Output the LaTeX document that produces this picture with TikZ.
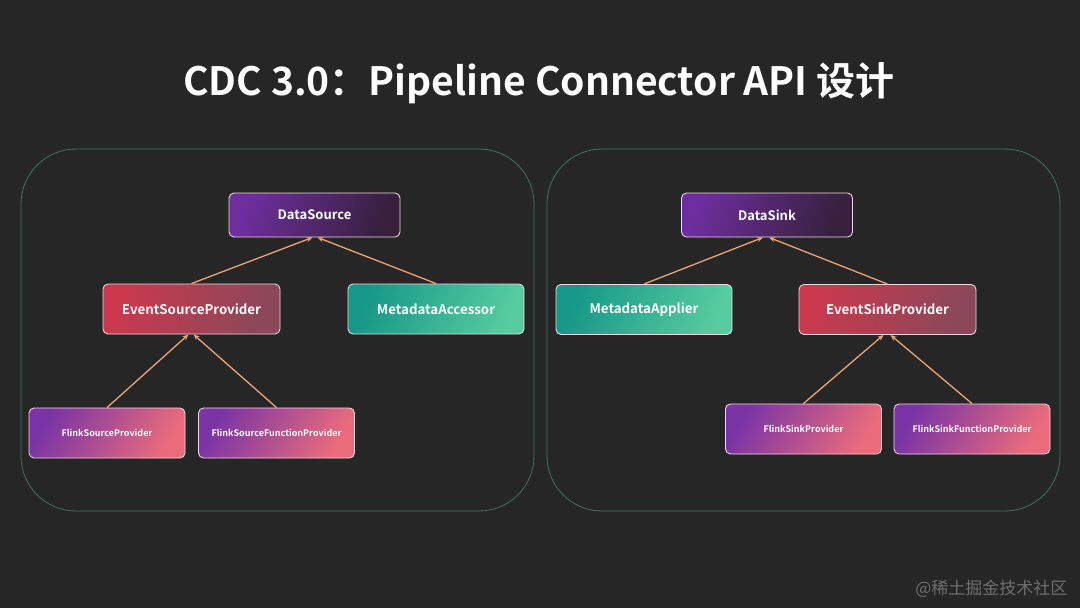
\documentclass[tikz,border=0pt]{standalone}
\usepackage{fontspec}
\setmainfont{Noto Sans CJK SC}[BoldFont={Noto Sans CJK SC Bold}]
\usetikzlibrary{arrows.meta}
\definecolor{bg}{RGB}{38,38,38}
\definecolor{panel}{RGB}{58,118,96}
\definecolor{arr}{RGB}{236,164,112}
\definecolor{nborder}{RGB}{240,214,224}
\definecolor{purA}{RGB}{110,46,158}
\definecolor{purB}{RGB}{54,32,60}
\definecolor{redA}{RGB}{203,56,78}
\definecolor{redB}{RGB}{138,72,90}
\definecolor{grnA}{RGB}{22,152,136}
\definecolor{grnB}{RGB}{86,204,160}
\definecolor{flA}{RGB}{122,52,165}
\definecolor{flB}{RGB}{234,108,124}
\definecolor{wm}{RGB}{110,110,110}
\tikzset{
  box/.style={draw=nborder, line width=0.9pt, rounded corners=5pt, text=white, font=\bfseries, inner sep=0pt},
  topbox/.style={box, minimum width=171pt, minimum height=44pt, left color=purA, right color=purB, shading angle=70, font=\bfseries\fontsize{13}{15}\selectfont},
  redbox/.style={box, minimum width=177pt, minimum height=50pt, left color=redA, right color=redB, shading angle=70, font=\bfseries\fontsize{13.3}{16}\selectfont},
  grnbox/.style={box, minimum width=176pt, minimum height=50pt, left color=grnA, right color=grnB, shading angle=70, font=\bfseries\fontsize{13.3}{16}\selectfont},
  flbox/.style={box, minimum width=156pt, minimum height=50pt, left color=flA, right color=flB, shading angle=60, font=\bfseries\fontsize{9}{11}\selectfont},
  panelbox/.style={draw=panel, line width=0.8pt, rounded corners=55pt},
  link/.style={draw=arr, line width=1.3pt, -{Stealth[length=6pt,width=5pt]}}
}
\begin{document}
\begin{tikzpicture}[x=1pt,y=-1pt]
\fill[bg] (0,0) rectangle (1080,608);
\useasboundingbox (0,0) rectangle (1080,608);
\node[text=white, font=\bfseries\fontsize{39}{46}\selectfont] (title) at (539,83) {CDC 3.0：Pipeline Connector API 设计};
\draw[panelbox] (21,149) rectangle (534,511);
\draw[panelbox] (547,149) rectangle (1060,511);
% left
\node[topbox] (ds) at (314.5,215) {DataSource};
\node[redbox] (esp) at (191.5,309) {EventSourceProvider};
\node[grnbox] (mda) at (436,309) {MetadataAccessor};
\node[flbox] (fsp) at (107,433) {FlinkSourceProvider};
\node[flbox] (fsfp) at (276.5,433) {FlinkSourceFunctionProvider};
\draw[link] (esp.north) -- ([xshift=-2pt]ds.south);
\draw[link] (mda.north) -- ([xshift=3pt]ds.south);
\draw[link] (fsp.north) -- ([xshift=-3pt]esp.south);
\draw[link] (fsfp.north) -- ([xshift=2pt]esp.south);
% right
\node[topbox] (dk) at (767,215) {DataSink};
\node[grnbox] (mdap) at (644,309.5) {MetadataApplier};
\node[redbox] (eskp) at (887.5,309.5) {EventSinkProvider};
\node[flbox] (fkp) at (803.5,429) {FlinkSinkProvider};
\node[flbox] (fkfp) at (972,429) {FlinkSinkFunctionProvider};
\draw[link] (mdap.north) -- ([xshift=-4pt]dk.south);
\draw[link] (eskp.north) -- ([xshift=2pt]dk.south);
\draw[link] (fkp.north) -- ([xshift=-4pt]eskp.south);
\draw[link] (fkfp.north) -- ([xshift=3pt]eskp.south);
\node[text=wm, font=\fontsize{17}{20}\selectfont, anchor=east] (wmk) at (1071,589) {@稀土掘金技术社区};
\end{tikzpicture}
\end{document}
